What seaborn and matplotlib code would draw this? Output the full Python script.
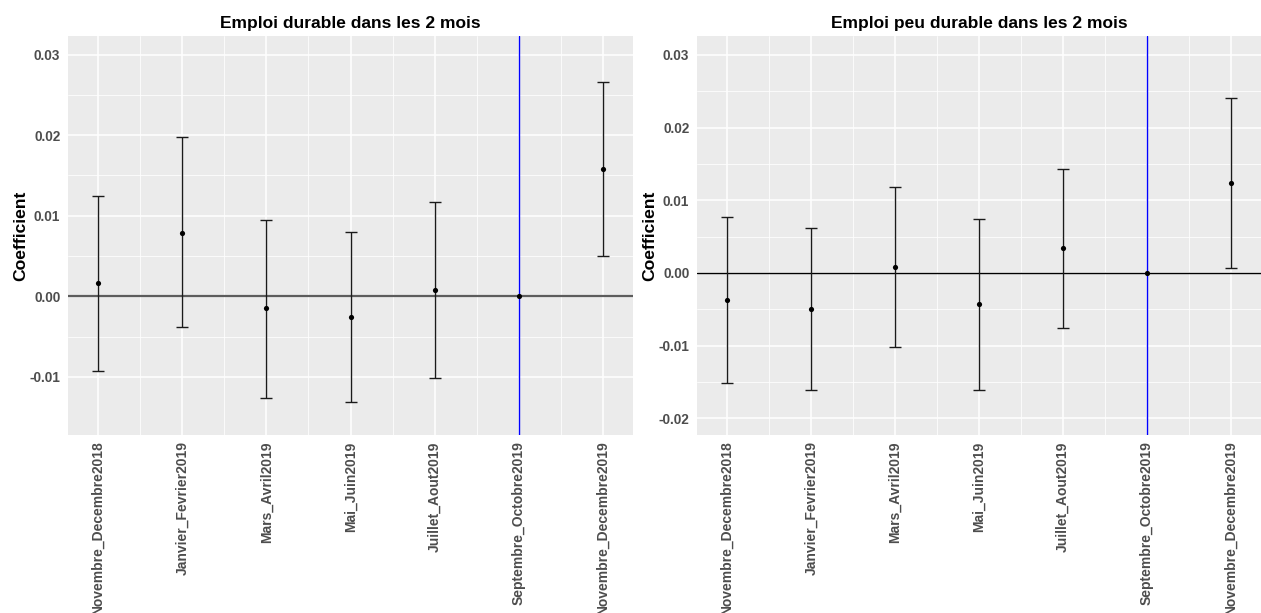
import numpy as np
import pandas as pd
import matplotlib
matplotlib.use("Agg")
import matplotlib.pyplot as plt
import seaborn as sns

periods = ["Novembre_Decembre2018", "Janvier_Fevrier2019", "Mars_Avril2019",
           "Mai_Juin2019", "Juillet_Aout2019", "Septembre_Octobre2019",
           "Novembre_Decembre2019"]

durable_coef = [0.00165, 0.0079, -0.0015, -0.0026, 0.00075, 0.0, 0.0158]
durable_low = [-0.0092, -0.00385, -0.01255, -0.01315, -0.0101, np.nan, 0.0050]
durable_high = [0.01248, 0.01976, 0.0095, 0.00794, 0.01166, np.nan, 0.02663]

peu_coef = [-0.00377, -0.00495, 0.00077, -0.00432, 0.00339, 0.0, 0.01242]
peu_low = [-0.01519, -0.01615, -0.01023, -0.0161, -0.00757, np.nan, 0.00069]
peu_high = [0.0077, 0.00623, 0.01187, 0.00743, 0.01425, np.nan, 0.02408]

titles = ["Emploi durable dans les 2 mois", "Emploi peu durable dans les 2 mois"]
left_ticks = [-0.01, 0.00, 0.01, 0.02, 0.03]
right_ticks = [-0.02, -0.01, 0.00, 0.01, 0.02, 0.03]
reference_period = "Septembre_Octobre2019"

sns.set_theme(style="darkgrid")
plt.rcParams["font.family"] = ["Liberation Sans", "DejaVu Sans"]

fig = plt.figure(figsize=(12.61, 6.13), dpi=100)
W, H = 1261, 613
ax1 = fig.add_axes([68 / W, 1 - 435 / H, (633 - 68) / W, (435 - 36) / H])
ax2 = fig.add_axes([697 / W, 1 - 435 / H, (1261 - 697) / W, (435 - 36) / H])

panels = [
    (ax1, durable_coef, durable_low, durable_high, titles[0], left_ticks,
     (-0.0172, 0.0323), "#5c5c5c", 1.6),
    (ax2, peu_coef, peu_low, peu_high, titles[1], right_ticks,
     (-0.0223, 0.0326), "black", 1.0),
]

for ax, coef, low, high, title, yt, ylim, zcol, zlw in panels:
    df = pd.DataFrame({"period": periods, "coef": coef, "low": low, "high": high})
    ax.set_facecolor("#EBEBEB")
    xs = np.arange(len(periods))
    ax.axhline(0, color=zcol, lw=zlw, zorder=2)
    ax.axvline(periods.index(reference_period), color="blue", lw=1.0, zorder=2)
    c = df["coef"].values
    err = np.vstack([c - df["low"].values, df["high"].values - c])
    ax.errorbar(xs, c, yerr=err, fmt="none", ecolor="#1a1a1a", elinewidth=1.0,
                capsize=4.2, capthick=1.0, zorder=3)
    sns.scatterplot(data=df, x="period", y="coef", ax=ax, color="black", s=14,
                    edgecolor="black", linewidth=0, zorder=4)
    ax.set_xlim(-0.36, len(periods) - 1 + 0.36)
    ax.set_ylim(*ylim)
    ax.set_yticks(yt)
    ax.set_yticklabels([f"{v:.2f}" for v in yt])
    ax.set_xticks(xs)
    ax.set_xticklabels(periods, rotation=90)
    ax.set_xticks(xs[:-1] + 0.5, minor=True)
    ax.set_yticks(np.array(yt[:-1]) + 0.005, minor=True)
    ax.grid(which="major", color="white", lw=1.1)
    ax.grid(which="minor", color="white", lw=0.55)
    ax.set_axisbelow(True)
    for s in ax.spines.values():
        s.set_visible(False)
    ax.tick_params(axis="both", which="major", length=3, width=0.8, color="#333333",
                   labelcolor="#4D4D4D", pad=2.5)
    ax.tick_params(axis="y", which="major", labelsize=9.8)
    ax.tick_params(axis="x", which="major", labelsize=10.0, pad=1.5)
    ax.tick_params(axis="both", which="minor", length=0)
    for lab in ax.get_xticklabels() + ax.get_yticklabels():
        lab.set_fontweight("bold")
    ax.set_xlabel("")
    ax.set_ylabel("Coefficient", fontsize=12.6, fontweight="bold", color="black", labelpad=1)
    ax.set_title(title, fontsize=12.5, fontweight="bold", color="black", pad=6)

fig.savefig("out.png", dpi=100, facecolor="white")
